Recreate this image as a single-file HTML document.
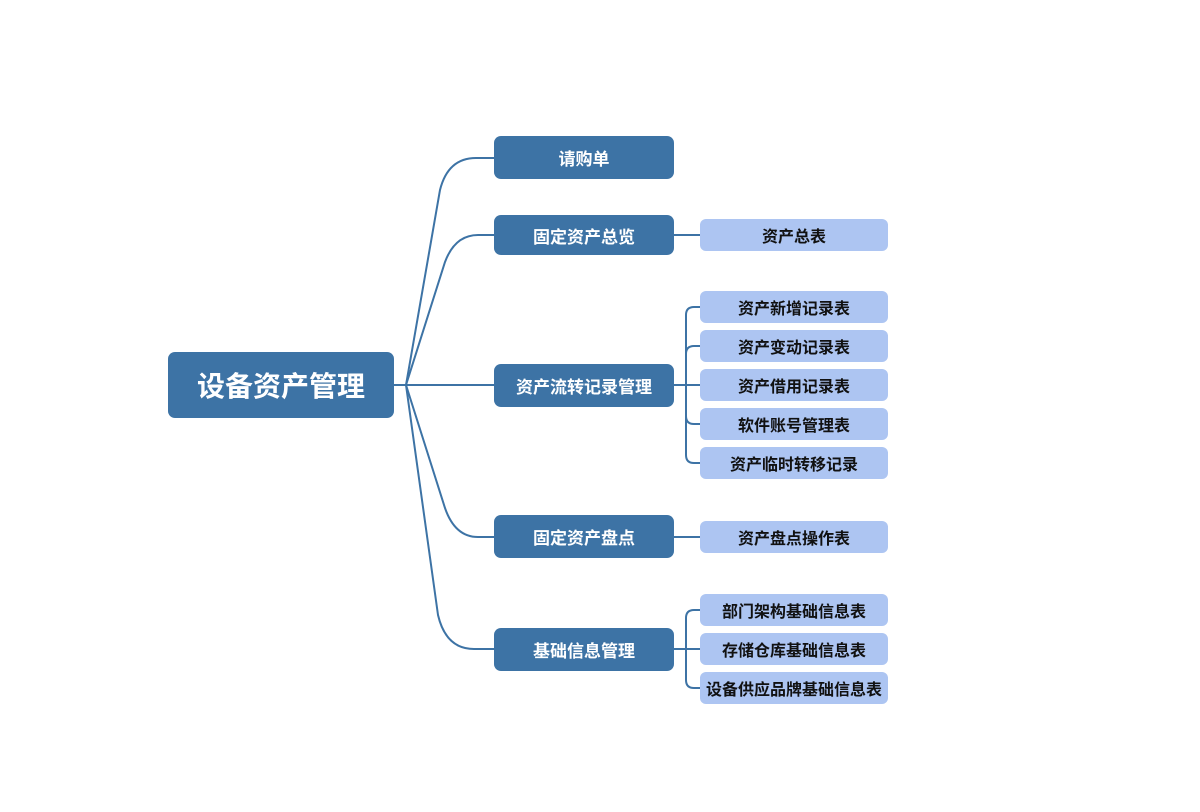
<!DOCTYPE html>
<html><head><meta charset="utf-8"><style>
body{margin:0;background:#fff;width:1200px;height:812px;position:relative;overflow:hidden;font-family:"Liberation Sans","Noto Sans CJK SC",sans-serif}
.b{position:absolute;display:flex;align-items:center;justify-content:center;font-weight:bold;box-sizing:border-box;white-space:nowrap}
.r{background:#3d73a5;color:#fff;border-radius:7px;font-size:28px}
.l{background:#3d73a5;color:#fff;border-radius:7px;font-size:17px;left:494px;width:180px}
.c{background:#adc5f2;color:#111;border-radius:6px;font-size:16px;left:700px;width:188px;height:32px}
svg{position:absolute;left:0;top:0}
</style></head><body>
<svg width="1200" height="812" fill="none" stroke="#3d73a5" stroke-width="2">
<path d="M394 385 L494 385"/>
<path d="M406 385 L440 190 Q448 158 476 158 L494 158"/>
<path d="M406 385 L445 262 Q455 235 478 235 L494 235"/>
<path d="M406 385 L445 508 Q455 537 478 537 L494 537"/>
<path d="M406 385 L438 615 Q446 649 474 649 L494 649"/>
<path d="M674 235 L700 235"/>
<path d="M674 537 L700 537"/>
<path d="M674 385 L700 385"/>
<path d="M674 649 L700 649"/>
<path d="M700 307 L694 307 Q686 307 686 315 L686 455 Q686 463 694 463 L700 463"/>
<path d="M686 354 Q686 346 694 346 L700 346"/>
<path d="M686 416 Q686 424 694 424 L700 424"/>
<path d="M700 610 L694 610 Q686 610 686 618 L686 680 Q686 688 694 688 L700 688"/>
</svg>
<div class="b r" style="left:168px;top:352px;width:226px;height:66px">设备资产管理</div>
<div class="b l" style="top:136px;height:43px">请购单</div>
<div class="b l" style="top:215px;height:40px">固定资产总览</div>
<div class="b l" style="top:364px;height:43px">资产流转记录管理</div>
<div class="b l" style="top:515px;height:43px">固定资产盘点</div>
<div class="b l" style="top:628px;height:43px">基础信息管理</div>
<div class="b c" style="top:219px">资产总表</div>
<div class="b c" style="top:291px">资产新增记录表</div>
<div class="b c" style="top:330px">资产变动记录表</div>
<div class="b c" style="top:369px">资产借用记录表</div>
<div class="b c" style="top:408px">软件账号管理表</div>
<div class="b c" style="top:447px">资产临时转移记录</div>
<div class="b c" style="top:521px">资产盘点操作表</div>
<div class="b c" style="top:594px">部门架构基础信息表</div>
<div class="b c" style="top:633px">存储仓库基础信息表</div>
<div class="b c" style="top:672px">设备供应品牌基础信息表</div>
</body></html>
